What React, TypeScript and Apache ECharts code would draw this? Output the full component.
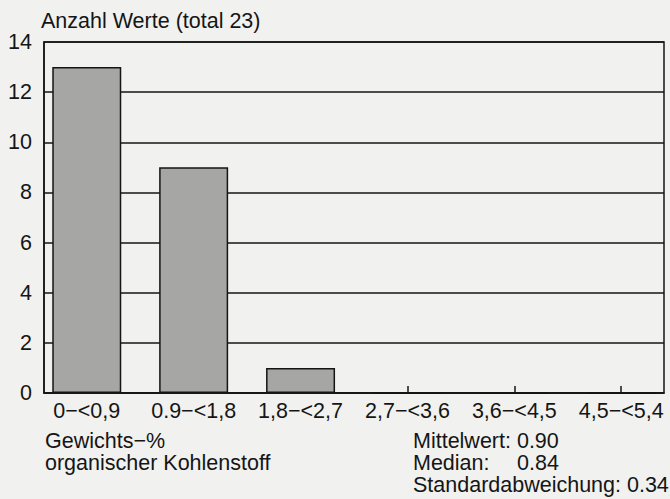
import React, { useEffect, useRef } from "react";
import * as echarts from "echarts";

const categories = ["0−<0,9", "0.9−<1,8", "1,8−<2,7", "2,7−<3,6", "3,6−<4,5", "4,5−<5,4"];
const counts = [13, 9, 1, 0, 0, 0];
const yTicks = [0, 2, 4, 6, 8, 10, 12, 14];
const titleText = "Anzahl Werte (total 23)";
const xTitleLines = ["Gewichts−%", "organischer Kohlenstoff"];
const statLabels = ["Mittelwert: 0.90", "Median:", "Standardabweichung: 0.34"];
const statValues = ["", "0.84", ""];

const FONT = "'Liberation Sans', Arial, Helvetica, sans-serif";
const INK = "#151515";
const FS = 21.5;

export default function App() {
  const ref = useRef<HTMLDivElement>(null);
  useEffect(() => {
    if (!ref.current) return;
    const chart = echarts.init(ref.current, null, { renderer: "svg" });
    const idx = categories.map((_, i) => i);
    const textStyle = (t: string, x: number, y: number) => ({
      type: "text",
      left: x,
      top: y,
      style: { text: t, font: `${FS}px ${FONT}`, fill: INK },
    });
    chart.setOption({
      animation: false,
      backgroundColor: "#f1f1ef",
      textStyle: { fontFamily: FONT },
      grid: {
        left: 44,
        right: 6,
        top: 42,
        bottom: 106,
        show: true,
        borderColor: INK,
        borderWidth: 1.5,
        backgroundColor: "transparent",
      },
      xAxis: {
        type: "value",
        min: -0.4,
        max: 5.4,
        splitLine: { show: false },
        axisLine: { show: true, onZero: false, lineStyle: { color: INK, width: 1.5 } },
        axisTick: {
          show: true,
          inside: true,
          length: 7,
          customValues: idx,
          lineStyle: { color: INK, width: 1.5 },
        },
        axisLabel: {
          customValues: idx,
          formatter: (v: number) => categories[Math.round(v)] ?? "",
          color: INK,
          fontSize: FS,
          fontFamily: FONT,
          margin: 7,
        },
      },
      yAxis: {
        type: "value",
        min: yTicks[0],
        max: yTicks[yTicks.length - 1],
        interval: 2,
        axisLine: { show: true, onZero: false, lineStyle: { color: INK, width: 1.5 } },
        axisTick: { show: false },
        splitLine: { show: true, lineStyle: { color: INK, width: 1.5 } },
        axisLabel: { color: INK, fontSize: FS, fontFamily: FONT, margin: 12 },
      },
      series: [
        {
          type: "bar",
          data: counts.map((v, i) => [i, v]),
          barWidth: 69,
          itemStyle: { color: "#a6a6a4", borderColor: INK, borderWidth: 1.5 },
        },
      ],
      graphic: [
        textStyle(titleText, 41, 10),
        textStyle(xTitleLines[0], 45, 430),
        textStyle(xTitleLines[1], 45, 452),
        textStyle(statLabels[0], 413, 430),
        textStyle(statLabels[1], 413, 452),
        textStyle(statValues[1], 517, 452),
        textStyle(statLabels[2], 413, 474),
      ],
    });
    return () => chart.dispose();
  }, []);
  return <div ref={ref} style={{ width: 670, height: 499, position: "absolute", left: 0, top: 0 }} />;
}
